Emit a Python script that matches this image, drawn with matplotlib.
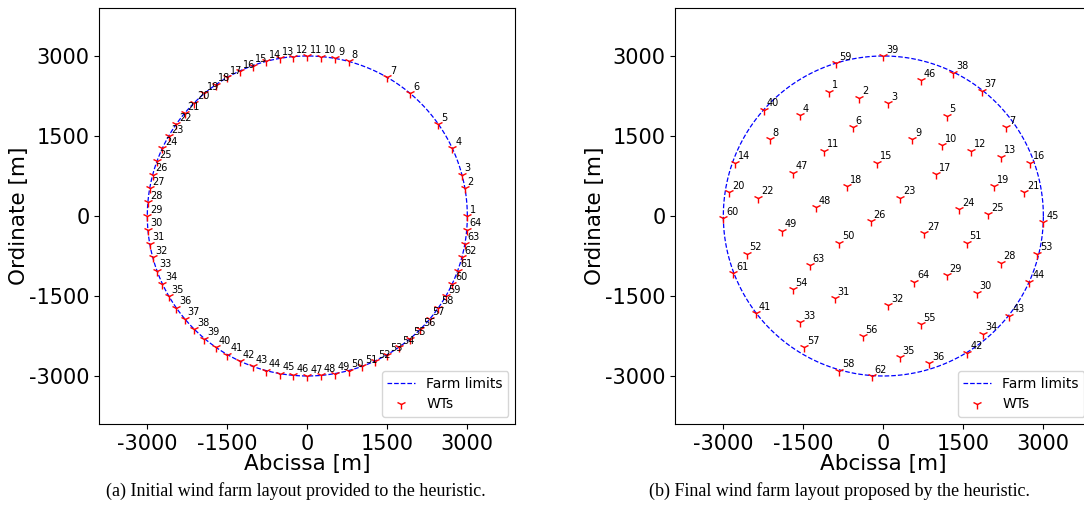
import numpy as np
import matplotlib
matplotlib.use("Agg")
import matplotlib.pyplot as plt

plt.rcParams['axes.unicode_minus'] = False

# farm boundary
farm_radius = 3000

# initial layout: turbines placed on the boundary (angle in degrees)
initial_angles = [0, 10, 15, 25, 35, 50, 60, 75, 80, 85, 90, 95, 100, 105, 110,
                  115, 120, 125, 130, 135, 140, 145, 150, 155, 160, 165, 170,
                  175, 180, 185, 190, 195, 200, 205, 210, 215, 220, 225, 230,
                  235, 240, 245, 250, 255, 260, 265, 270, 275, 280, 285, 290,
                  295, 300, 305, 310, 315, 320, 325, 330, 335, 340, 345, 350, 355]

# final layout proposed by the heuristic (turbines 1..64)
final_x = [-1012, -456, 94, -1562, 1188, -575, 2300, -2125, 544, 1094,
           -1112, 1638, 2200, -2781, -125, 2750, 981, -675, 2081, -2894,
           2638, -2344, 312, 1425, 1969, -238, 762, 2200, 1188, 1750,
           -906, 94, -1562, 1862, 312, 862, 1844, 1312, 0, -2238,
           -2394, 1575, 2362, 2738, 3000, 700, -1700, -1262, -1906, -825,
           1562, -2562, 2888, -1700, 700, -388, -1481, -825, -888, -3000,
           -2812, -212, -1375, 581]
final_y = [2331, 2219, 2112, 1888, 1881, 1662, 1662, 1444, 1444, 1331,
           1225, 1225, 1112, 1000, 1000, 1000, 781, 562, 562, 444,
           444, 344, 344, 125, 31, -95, -325, -875, -1106, -1438,
           -1544, -1669, -1994, -2212, -2650, -2762, 2350, 2688, 3000, 1988,
           -1825, -2562, -1869, -1231, -120, 2550, 812, 162, -275, -500,
           -500, -712, -712, -1375, -2025, -2250, -2462, -2900, 2862, -44,
           -1075, -3000, -919, -1231]

ticks = [-3000, -1500, 0, 1500, 3000]
captions = ["(a) Initial wind farm layout provided to the heuristic.",
            "(b) Final wind farm layout proposed by the heuristic."]


def draw_layout(ax, xs, ys):
    t = np.linspace(0, 2 * np.pi, 400)
    ax.plot(farm_radius * np.cos(t), farm_radius * np.sin(t), '--',
            color='blue', lw=0.9, label='Farm limits')
    ax.plot(xs, ys, '1', color='red', ms=7, mew=1.0, label='WTs')
    for i, (x, y) in enumerate(zip(xs, ys)):
        ax.annotate(str(i + 1), (x, y), xytext=(2, 2.5), textcoords='offset points',
                    fontsize=7, ha='left', va='baseline')
    ax.set_xlim(-3900, 3900)
    ax.set_ylim(-3900, 3900)
    ax.set_xticks(ticks)
    ax.set_yticks(ticks)
    ax.tick_params(labelsize=15)
    ax.set_xlabel('Abcissa [m]', fontsize=15.5, labelpad=0)
    ax.set_ylabel('Ordinate [m]', fontsize=15.5, labelpad=0)
    ax.legend(loc='lower right', fontsize=10)


fig = plt.figure(figsize=(10.84, 5.12), dpi=100)
ax1 = fig.add_axes([0.0916, 0.1719, 0.3838, 0.8125])
ax2 = fig.add_axes([0.623, 0.1719, 0.3838, 0.8125])

ang = np.radians(initial_angles)
draw_layout(ax1, farm_radius * np.cos(ang), farm_radius * np.sin(ang))
draw_layout(ax2, final_x, final_y)

fig.text(295.5 / 1084, 1 - 491 / 512, captions[0], ha='center', va='center',
         family='Liberation Serif', fontsize=13)
fig.text(839 / 1084, 1 - 491 / 512, captions[1], ha='center', va='center',
         family='Liberation Serif', fontsize=13)

fig.savefig('out.png', dpi=100)
